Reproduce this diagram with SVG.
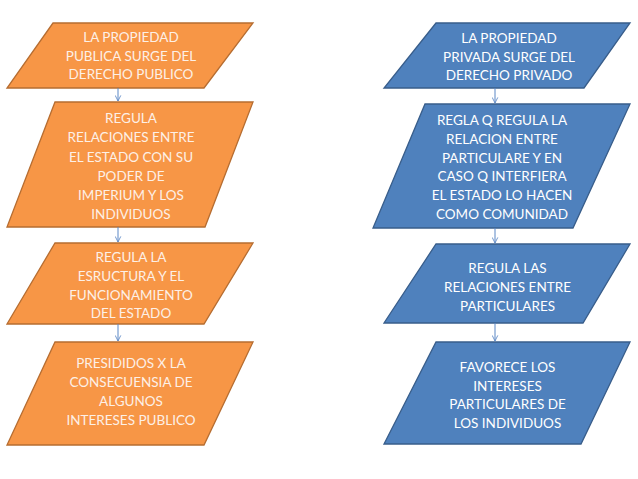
<svg xmlns="http://www.w3.org/2000/svg" width="638" height="479" viewBox="0 0 638 479">
<style>
.o{fill:#F79646;stroke:#B66D31;stroke-width:1.3}
.b{fill:#4F81BD;stroke:#385D8A;stroke-width:1.3}
.t{font-family:Lato,"Liberation Sans",sans-serif;font-size:13.5px;text-anchor:middle}
.to{fill:#FDF0E6}
.tb{fill:#FFFFFF}
.c{stroke:#5B87C5;stroke-width:1;fill:none}
</style>
<defs>
<marker id="ah" viewBox="0 0 10 10" refX="9" refY="5" markerWidth="7" markerHeight="7" orient="auto" markerUnits="userSpaceOnUse">
<path d="M1,1 L9,5 L1,9" fill="none" stroke="#5B87C5" stroke-width="1.2"/>
</marker>
</defs>
<rect width="638" height="479" fill="#FFFFFF"/>
<g id="l1">
<polygon class="o" points="53,23 253,23 204,88 7,88"/>
<text class="t to"><tspan x="131" y="42">LA PROPIEDAD</tspan><tspan x="131" y="61">PUBLICA SURGE DEL</tspan><tspan x="131" y="79">DERECHO PUBLICO</tspan></text>
</g>
<g id="l2">
<polygon class="o" points="55,102 253,102 205,227 7,227"/>
<text class="t to"><tspan x="131" y="123">REGULA</tspan><tspan x="131" y="142">RELACIONES ENTRE</tspan><tspan x="131" y="161.5">EL ESTADO CON SU</tspan><tspan x="131" y="181">PODER DE</tspan><tspan x="131" y="200">IMPERIUM Y LOS</tspan><tspan x="131" y="219">INDIVIDUOS</tspan></text>
</g>
<g id="l3">
<polygon class="o" points="55,243 253,243 204,324 7,324"/>
<text class="t to"><tspan x="131" y="262">REGULA LA</tspan><tspan x="131" y="281">ESRUCTURA Y EL</tspan><tspan x="131" y="300">FUNCIONAMIENTO</tspan><tspan x="131" y="318">DEL ESTADO</tspan></text>
</g>
<g id="l4">
<polygon class="o" points="55,342 253,342 204,445 7,445"/>
<text class="t to"><tspan x="131" y="368">PRESIDIDOS X LA</tspan><tspan x="131" y="387">CONSECUENSIA DE</tspan><tspan x="131" y="406">ALGUNOS</tspan><tspan x="131" y="425">INTERESES PUBLICO</tspan></text>
</g>
<g id="r1">
<polygon class="b" points="436,23 630,23 584,88 384,88"/>
<text class="t tb"><tspan x="509" y="42.5">LA PROPIEDAD</tspan><tspan x="509" y="61.5">PRIVADA SURGE DEL</tspan><tspan x="509" y="80">DERECHO PRIVADO</tspan></text>
</g>
<g id="r2">
<polygon class="b" points="425,104 630,104 573,228 373,228"/>
<text class="t tb"><tspan x="502" y="125">REGLA Q REGULA LA</tspan><tspan x="502" y="143.5">RELACION ENTRE</tspan><tspan x="502" y="162.5">PARTICULARE Y EN</tspan><tspan x="502" y="181">CASO Q INTERFIERA</tspan><tspan x="502" y="200">EL ESTADO LO HACEN</tspan><tspan x="502" y="219">COMO COMUNIDAD</tspan></text>
</g>
<g id="r3">
<polygon class="b" points="436,244 630,244 583,323 384,323"/>
<text class="t tb"><tspan x="507.5" y="273">REGULA LAS</tspan><tspan x="507.5" y="292">RELACIONES ENTRE</tspan><tspan x="507.5" y="311">PARTICULARES</tspan></text>
</g>
<g id="r4">
<polygon class="b" points="436,342 630,342 581,444 384,444"/>
<text class="t tb"><tspan x="507.5" y="372">FAVORECE LOS</tspan><tspan x="507.5" y="390.5">INTERESES</tspan><tspan x="507.5" y="409">PARTICULARES DE</tspan><tspan x="507.5" y="428">LOS INDIVIDUOS</tspan></text>
</g>
<g id="connectors">
<line class="c" x1="118" y1="88" x2="118" y2="101" marker-end="url(#ah)"/>
<line class="c" x1="118" y1="227" x2="118" y2="242" marker-end="url(#ah)"/>
<line class="c" x1="118" y1="324" x2="118" y2="341" marker-end="url(#ah)"/>
<line class="c" x1="495" y1="88" x2="495" y2="103" marker-end="url(#ah)"/>
<line class="c" x1="495" y1="228" x2="495" y2="243" marker-end="url(#ah)"/>
<line class="c" x1="495" y1="323" x2="495" y2="341" marker-end="url(#ah)"/>
</g>
</svg>
